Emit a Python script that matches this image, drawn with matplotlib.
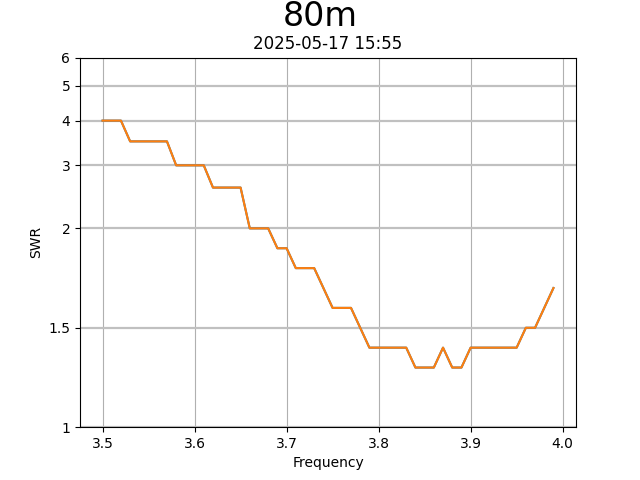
import matplotlib
matplotlib.use("Agg")
import matplotlib.pyplot as plt
from matplotlib.ticker import NullLocator, FixedLocator, FixedFormatter

freq = [3.50, 3.51, 3.52, 3.53, 3.54, 3.55, 3.56, 3.57, 3.58, 3.59,
        3.60, 3.61, 3.62, 3.63, 3.64, 3.65, 3.66, 3.67, 3.68, 3.69,
        3.70, 3.71, 3.72, 3.73, 3.74, 3.75, 3.76, 3.77, 3.78, 3.79,
        3.80, 3.81, 3.82, 3.83, 3.84, 3.85, 3.86, 3.87, 3.88, 3.89,
        3.90, 3.91, 3.92, 3.93, 3.94, 3.95, 3.96, 3.97, 3.98, 3.99]
swr = [4.0, 4.0, 4.0, 3.5, 3.5, 3.5, 3.5, 3.5, 3.0, 3.0,
       3.0, 3.0, 2.6, 2.6, 2.6, 2.6, 2.0, 2.0, 2.0, 1.9,
       1.9, 1.8, 1.8, 1.8, 1.7, 1.6, 1.6, 1.6, 1.5, 1.4,
       1.4, 1.4, 1.4, 1.4, 1.3, 1.3, 1.3, 1.4, 1.3, 1.3,
       1.4, 1.4, 1.4, 1.4, 1.4, 1.4, 1.5, 1.5, 1.6, 1.7]
yticks = [1, 1.5, 2, 3, 4, 5, 6]
ytick_labels = ["1", "1.5", "2", "3", "4", "5", "6"]

fig, ax = plt.subplots(figsize=(6.4, 4.8), dpi=100)
ax.plot(freq, swr, color="C0")
ax.plot(freq, swr, color="C1")
ax.set_yscale("symlog", linthresh=2)
ax.set_ylim(1, 6)
ax.yaxis.set_major_locator(FixedLocator(yticks))
ax.yaxis.set_major_formatter(FixedFormatter(ytick_labels))
ax.yaxis.set_minor_locator(NullLocator())
ax.xaxis.grid(True)
ax.yaxis.grid(True, color="#c0c0c0", linewidth=1.6)
ax.set_xlabel("Frequency")
ax.set_ylabel("SWR")
ax.set_title("2025-05-17 15:55")
fig.suptitle("80m", fontsize=24, y=1.0)
fig.savefig("out.png", dpi=100)
